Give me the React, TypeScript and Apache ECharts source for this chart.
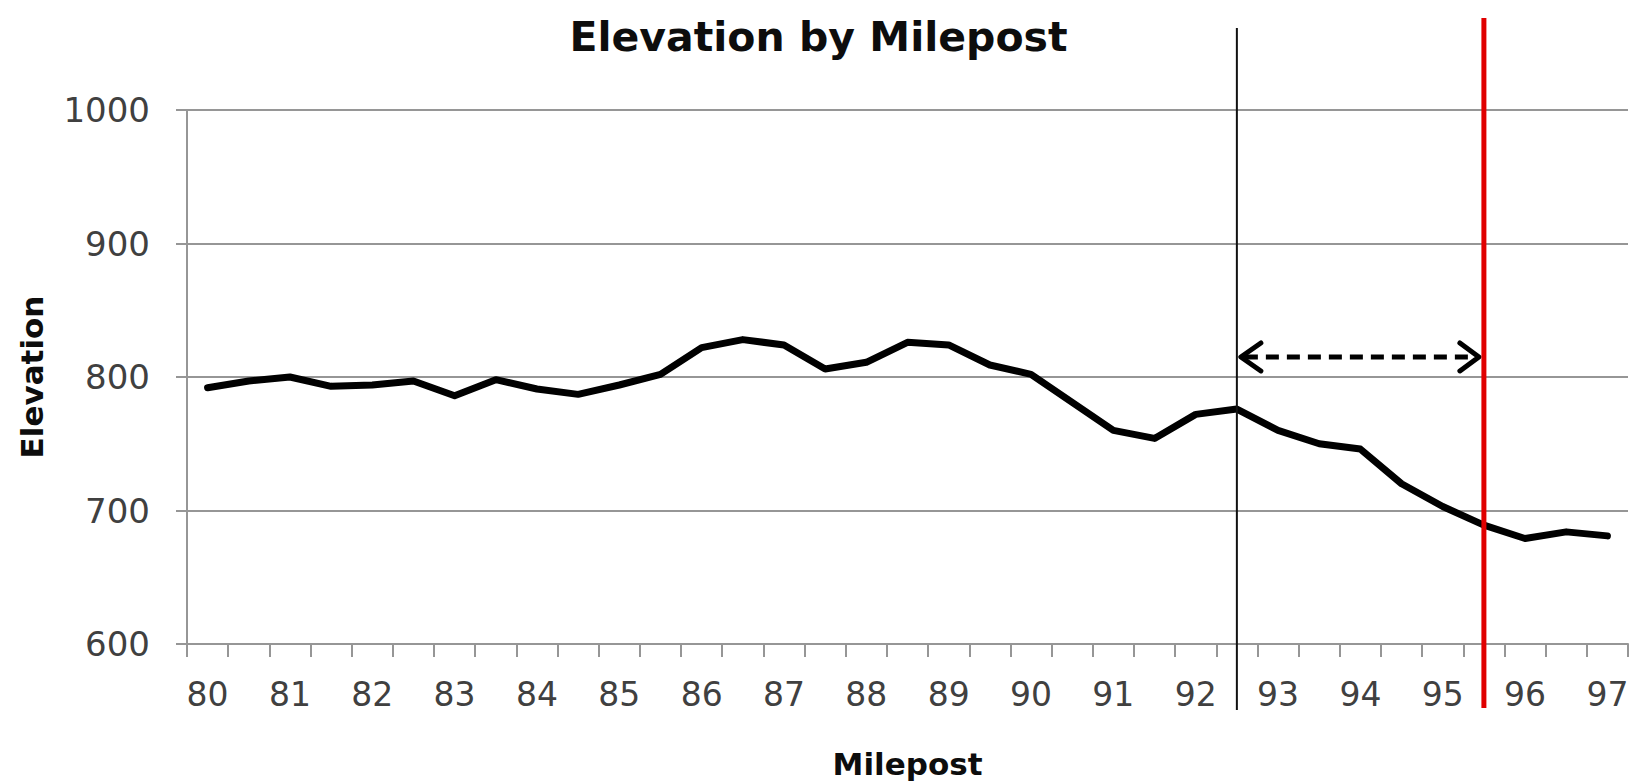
import React, { useEffect, useRef } from "react";
import * as echarts from "echarts";

const MILEPOSTS = [
  "80", "80.5", "81", "81.5", "82", "82.5", "83", "83.5", "84", "84.5",
  "85", "85.5", "86", "86.5", "87", "87.5", "88", "88.5", "89", "89.5",
  "90", "90.5", "91", "91.5", "92", "92.5", "93", "93.5", "94", "94.5",
  "95", "95.5", "96", "96.5", "97",
];

const ELEVATION = [
  792, 797, 800, 793, 794, 797, 786, 798, 791, 787,
  794, 802, 822, 828, 824, 806, 811, 826, 824, 809,
  802, 781, 760, 754, 772, 776, 760, 750, 746, 720,
  703, 689, 679, 684, 681,
];

const Y_MIN = 600;
const Y_MAX = 1000;
const Y_STEP = 100;

const START_MARK = "92.5";
const END_MARK = "95.5";
const ARROW_LEVEL = 815;

const FONT = "DejaVu Sans";

export default function App() {
  const ref = useRef<HTMLDivElement>(null);

  useEffect(() => {
    if (!ref.current) return;
    const chart = echarts.init(ref.current, null, { renderer: "svg" });
    const gridColor = "#969696";
    const option: any = {
      animation: false,
      backgroundColor: "#ffffff",
      title: {
        text: "Elevation by Milepost",
        left: "center",
        top: 16,
        padding: [0, 20, 0, 0],
        textStyle: {
          fontFamily: FONT,
          fontWeight: "bold",
          fontSize: 41,
          color: "#0d0d0d",
        },
      },
      grid: { left: 187, top: 110, right: 9, bottom: 139, containLabel: false },
      xAxis: {
        type: "category",
        data: MILEPOSTS,
        boundaryGap: true,
        name: "Milepost",
        nameLocation: "middle",
        nameGap: 104,
        nameTextStyle: {
          fontFamily: FONT,
          fontWeight: "bold",
          fontSize: 31,
          color: "#0d0d0d",
        },
        axisLine: { show: true, lineStyle: { color: gridColor, width: 2 } },
        axisTick: {
          show: true,
          interval: 0,
          alignWithLabel: false,
          length: 13,
          lineStyle: { color: gridColor, width: 2 },
        },
        axisLabel: {
          interval: 1,
          margin: 34,
          fontFamily: FONT,
          fontSize: 33,
          color: "#404040",
        },
        splitLine: { show: false },
      },
      yAxis: {
        type: "value",
        min: Y_MIN,
        max: Y_MAX,
        interval: Y_STEP,
        name: "Elevation",
        nameLocation: "middle",
        nameRotate: 90,
        nameGap: 140,
        nameTextStyle: {
          fontFamily: FONT,
          fontWeight: "bold",
          fontSize: 31,
          color: "#0d0d0d",
        },
        axisLine: { show: true, lineStyle: { color: gridColor, width: 2 } },
        axisTick: { show: true, length: 11, lineStyle: { color: gridColor, width: 2 } },
        axisLabel: {
          margin: 37,
          fontFamily: FONT,
          fontSize: 34,
          color: "#404040",
          formatter: (v: number) => String(v),
        },
        splitLine: { show: true, lineStyle: { color: gridColor, width: 2 } },
      },
      series: [
        {
          type: "line",
          data: ELEVATION,
          showSymbol: false,
          symbol: "none",
          smooth: false,
          z: 5,
          lineStyle: { color: "#000000", width: 7, cap: "round", join: "round" },
        },
      ],
    };
    chart.setOption(option);

    const xb = chart.convertToPixel({ xAxisIndex: 0 }, MILEPOSTS.indexOf(START_MARK)) as number;
    const xr = chart.convertToPixel({ xAxisIndex: 0 }, MILEPOSTS.indexOf(END_MARK)) as number;
    const ya = chart.convertToPixel({ yAxisIndex: 0 }, ARROW_LEVEL) as number;
    const yTop = chart.convertToPixel({ yAxisIndex: 0 }, Y_MAX) as number;
    const yBot = chart.convertToPixel({ yAxisIndex: 0 }, Y_MIN) as number;

    chart.setOption({
      graphic: [
        {
          type: "line",
          z: 100,
          shape: { x1: xb, y1: yTop - 82, x2: xb, y2: yBot + 66 },
          style: { stroke: "#111111", lineWidth: 2 },
        },
        {
          type: "line",
          z: 101,
          shape: { x1: xr, y1: yTop - 92, x2: xr, y2: yBot + 64 },
          style: { stroke: "#e00000", lineWidth: 5 },
        },
        {
          type: "line",
          z: 100,
          shape: { x1: xb + 8, y1: ya, x2: xr - 8, y2: ya },
          style: { stroke: "#000000", lineWidth: 5, lineDash: [13, 8] },
        },
        {
          type: "polyline",
          z: 100,
          shape: { points: [[xb + 24, ya - 14], [xb + 4, ya], [xb + 24, ya + 14]] },
          style: { stroke: "#000000", lineWidth: 5, fill: "none", lineCap: "round", lineJoin: "round" },
        },
        {
          type: "polyline",
          z: 100,
          shape: { points: [[xr - 24, ya - 14], [xr - 5, ya], [xr - 24, ya + 14]] },
          style: { stroke: "#000000", lineWidth: 5, fill: "none", lineCap: "round", lineJoin: "round" },
        },
      ],
    });

    return () => {
      chart.dispose();
    };
  }, []);

  return (
    <div
      ref={ref}
      style={{ position: "fixed", left: 0, top: 0, width: 1637, height: 784, background: "#fff" }}
    />
  );
}
